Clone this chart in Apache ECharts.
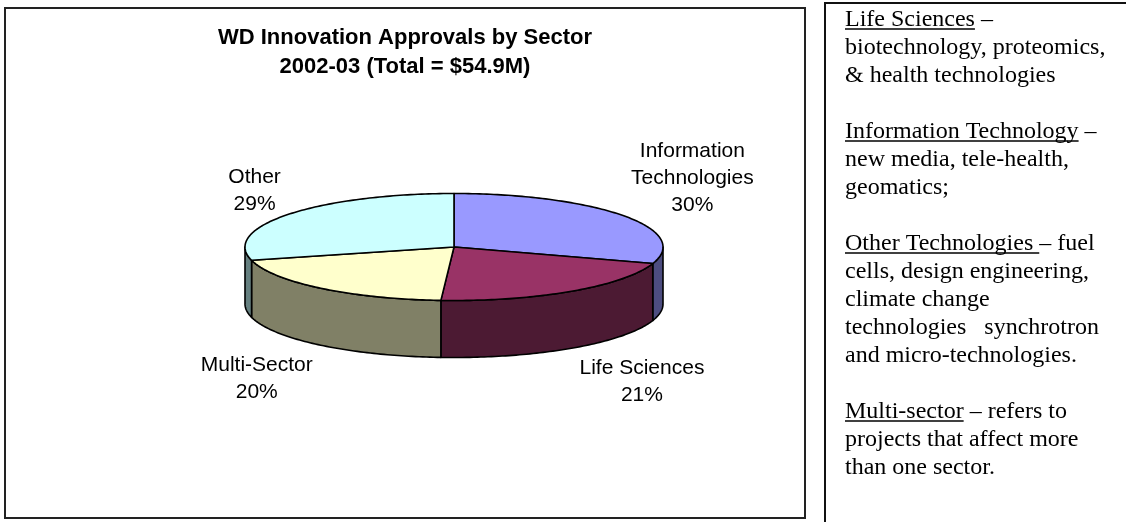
<!DOCTYPE html>
<html>
<head>
<meta charset="utf-8">
<title>WD Innovation Approvals by Sector</title>
<script src="https://cdn.jsdelivr.net/npm/echarts@6/dist/echarts.min.js"></script>
<style>html, body { margin: 0; padding: 0; background: #fff; }</style>
</head>
<body>
<div id="main" style="width:1126px;height:522px;"></div>
<script type="text/javascript">
// chart data
var sectors = ['Information\nTechnologies', 'Life Sciences', 'Multi-Sector', 'Other'];
var shares = [30, 21, 20, 29];            // % of total approvals
var titleLines = ['WD Innovation Approvals by Sector', '2002-03 (Total = $54.9M)'];

// notes panel on the right
var noteTerms = ['Life Sciences', 'Information Technology', 'Other Technologies ', 'Multi-sector'];
var noteLeads = [' \u2013', ' \u2013', '\u2013 fuel', ' \u2013 refers to'];
var noteLines = [
    ['biotechnology, proteomics,', '& health technologies'],
    ['new media, tele-health,', 'geomatics;'],
    ['cells, design engineering,', 'climate change', 'technologies   synchrotron', 'and micro-technologies.'],
    ['projects that affect more', 'than one sector.']
];

var topColors = ['#9999FF', '#993366', '#FFFFCC', '#CCFFFF'];
var sideColors = ['#4D4D80', '#4C1A33', '#808066', '#668080'];

// pie layout (pixels)
var CX = 454, CY = 247, RX = 209, RY = 53.5, DEPTH = 57;
var LABEL_FONT = '21px "Liberation Sans", Arial, sans-serif';
var LABEL_LH = 27;
var NOTE_FONT = '24px "Liberation Serif", "Times New Roman", serif';

var total = shares.reduce(function (a, b) { return a + b; }, 0);
var startAngles = [], endAngles = [];
var acc = 0;
shares.forEach(function (v) {
    startAngles.push(acc / total * 360);
    acc += v;
    endAngles.push(acc / total * 360);
});

var measureCtx = document.createElement('canvas').getContext('2d');
function textWidth(str, font) {
    measureCtx.font = font;
    return measureCtx.measureText(str).width;
}

// angle measured clockwise from 12 o'clock
function ellPt(deg, dy) {
    var r = deg * Math.PI / 180;
    return [CX + RX * Math.sin(r), CY - RY * Math.cos(r) + (dy || 0)];
}
function arc(a, b, dy) {
    var pts = [];
    var n = Math.max(2, Math.ceil(Math.abs(b - a)));
    for (var i = 0; i <= n; i++) pts.push(ellPt(a + (b - a) * i / n, dy));
    return pts;
}

function renderSide(params, api) {
    var i = params.dataIndex;
    var lo = Math.max(startAngles[i], 90), hi = Math.min(endAngles[i], 270);
    if (lo >= hi) return null;
    return {
        type: 'polygon',
        shape: { points: arc(lo, hi, 0).concat(arc(hi, lo, DEPTH)) },
        style: { fill: sideColors[i], stroke: '#000', lineWidth: 1.6, lineJoin: 'round' },
        silent: true
    };
}

function renderTop(params, api) {
    var i = params.dataIndex;
    var a = startAngles[i], b = endAngles[i];
    var mid = (a + b) / 2, r = mid * Math.PI / 180;
    var s = Math.sin(r), c = Math.cos(r);
    var edge = ellPt(mid, c < 0 ? DEPTH : 0);
    var lines = sectors[i].split('\n').concat([Math.round(api.value(0) / total * 100) + '%']);
    var w = Math.max.apply(null, lines.map(function (t) { return textWidth(t, LABEL_FONT); }));
    var h = lines.length * LABEL_LH;
    var lx = s >= 0 ? edge[0] + 8 + w / 2 : edge[0] - 8 - w / 2;
    var ly = c >= 0 ? edge[1] + 3 - h : edge[1] + 6;
    return {
        type: 'group',
        children: [{
            type: 'polygon',
            shape: { points: [[CX, CY]].concat(arc(a, b, 0)) },
            style: { fill: topColors[i], stroke: '#000', lineWidth: 1.6, lineJoin: 'round' }
        }, {
            type: 'text',
            z2: 20,
            style: {
                x: lx, y: ly, text: lines.join('\n'),
                font: LABEL_FONT, lineHeight: LABEL_LH, fill: '#000',
                align: 'center', verticalAlign: 'top'
            }
        }]
    };
}

// graphic: borders, title, notes panel
var graphics = [{
    type: 'rect',
    shape: { x: 5, y: 8, width: 800, height: 510 },
    style: { fill: 'none', stroke: '#222', lineWidth: 2 }
}, {
    type: 'polyline',
    shape: { points: [[825, 522], [825, 3], [1130, 3]] },
    style: { fill: 'none', stroke: '#111', lineWidth: 2 }
}];
titleLines.forEach(function (t, k) {
    graphics.push({
        type: 'text',
        style: {
            x: 405, y: 38 + k * 29, text: t,
            font: 'bold 22px "Liberation Sans", Arial, sans-serif', fill: '#000',
            align: 'center', verticalAlign: 'middle'
        }
    });
});

var NOTE_X = 845, slot = 0;
function noteText(x, y, t) {
    graphics.push({
        type: 'text',
        style: { x: x, y: y, text: t, font: NOTE_FONT, fill: '#000', align: 'left', verticalAlign: 'middle' }
    });
}
noteTerms.forEach(function (term, i) {
    var y = 20 + slot * 28;
    var tw = textWidth(term, NOTE_FONT);
    noteText(NOTE_X, y, term);
    noteText(NOTE_X + tw, y, noteLeads[i]);
    graphics.push({
        type: 'line',
        shape: { x1: NOTE_X, y1: y + 9, x2: NOTE_X + tw, y2: y + 9 },
        style: { stroke: '#000', lineWidth: 1.5 }
    });
    slot++;
    noteLines[i].forEach(function (t) {
        noteText(NOTE_X, 20 + slot * 28, t);
        slot++;
    });
    slot++;
});

var myChart = echarts.init(document.getElementById('main'));
var seriesData = shares.map(function (v, i) { return { name: sectors[i], value: v }; });

var option = {
    backgroundColor: '#fff',
    animation: false,
    graphic: graphics,
    series: [{
        type: 'custom',
        coordinateSystem: 'none',
        z: 1,
        renderItem: renderSide,
        data: seriesData
    }, {
        type: 'custom',
        coordinateSystem: 'none',
        z: 2,
        renderItem: renderTop,
        data: seriesData
    }]
};
myChart.setOption(option);
</script>
</body>
</html>
